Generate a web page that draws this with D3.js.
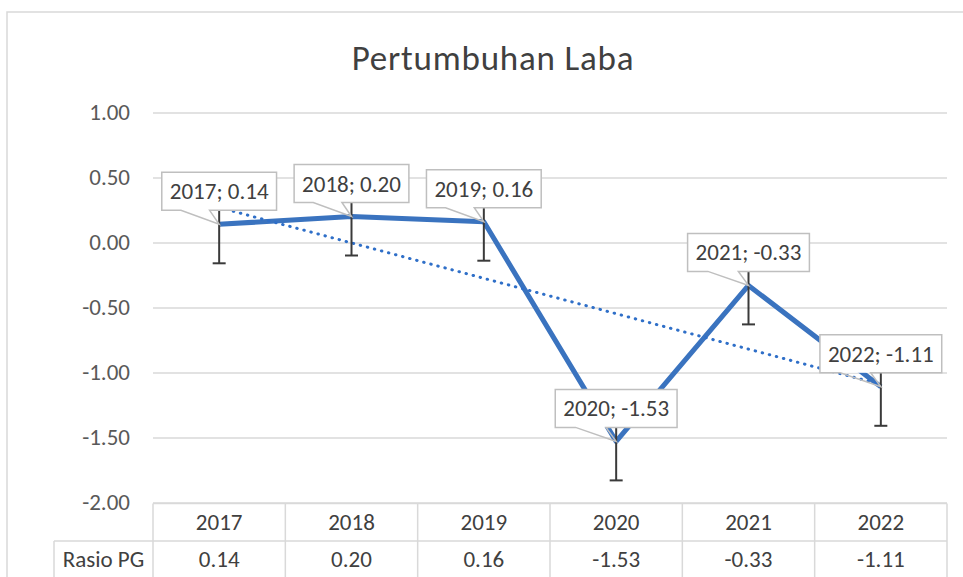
<!DOCTYPE html>
<html>
<head>
<meta charset="utf-8">
<script src="https://cdn.jsdelivr.net/npm/d3@7"></script>
<style>
  html, body { margin: 0; padding: 0; background: #fff; }
  svg { display: block; }
  text { font-family: Carlito, Calibri, Lato, sans-serif; }
</style>
</head>
<body>
<script>
const title = "Pertumbuhan Laba";
const years = ["2017", "2018", "2019", "2020", "2021", "2022"];
const values = [0.14, 0.20, 0.16, -1.53, -0.33, -1.11];
const errors = [0.30, 0.30, 0.30, 0.30, 0.30, 0.30];
const yTicks = [1.00, 0.50, 0.00, -0.50, -1.00, -1.50, -2.00];
const seriesName = "Rasio PG";

const W = 963, H = 577;
const FS = 23;
const fmt = d3.formatLocale({decimal: ".", thousands: ",", grouping: [3], currency: ["", ""], minus: "-"}).format(".2f");

const svg = d3.select("body").append("svg").attr("width", W).attr("height", H);

// frame
svg.append("path").attr("d", `M7,${H + 2} L7,12 L${W + 2},12`)
  .attr("fill", "none").attr("stroke", "#d9d9d9").attr("stroke-width", 1.5);

const plotL = 153, plotR = 947;
const x = d3.scaleBand().domain(years).range([plotL, plotR]);
const y = d3.scaleLinear().domain([-2, 1]).range([502.5, 112.5]);
const cx = d => x(d) + x.bandwidth() / 2;

// title
svg.append("text").attr("x", 493).attr("y", 70).attr("text-anchor", "middle")
  .attr("font-size", 35).attr("letter-spacing", 0.8).attr("fill", "#404040").text(title);

// gridlines
const grid = svg.append("g").attr("transform", `translate(${plotL},0)`)
  .call(d3.axisLeft(y).tickValues(yTicks).tickSize(-(plotR - plotL)).tickFormat(""));
grid.select(".domain").remove();
grid.selectAll("line").attr("stroke", "#d9d9d9").attr("stroke-width", 1.5);

// y axis labels
const yAxis = svg.append("g").attr("transform", `translate(${plotL},0)`)
  .call(d3.axisLeft(y).tickValues(yTicks).tickSize(0).tickPadding(23).tickFormat(fmt));
yAxis.select(".domain").remove();
yAxis.selectAll("text").attr("font-size", FS).attr("fill", "#595959")
  .style("font-family", "Carlito, Calibri, Lato, sans-serif");

// data table
const tTop = y(-2) + 1, tMid = 541, tBot = 579, tLeft = 54;
const tbl = svg.append("g").attr("stroke", "#d9d9d9").attr("stroke-width", 1.5);
tbl.append("line").attr("x1", plotL).attr("x2", plotR).attr("y1", tTop).attr("y2", tTop);
tbl.append("line").attr("x1", tLeft).attr("x2", plotR).attr("y1", tMid).attr("y2", tMid);
tbl.append("line").attr("x1", tLeft).attr("x2", plotR).attr("y1", tBot).attr("y2", tBot);
tbl.append("line").attr("x1", tLeft).attr("x2", tLeft).attr("y1", tMid).attr("y2", tBot);
const bounds = years.map(d => x(d)).concat([plotR]);
tbl.selectAll("line.v").data(bounds).join("line").attr("class", "v")
  .attr("x1", d => d).attr("x2", d => d).attr("y1", tTop).attr("y2", tBot);

svg.append("g").selectAll("text").data(years).join("text")
  .attr("x", d => cx(d)).attr("y", 530).attr("text-anchor", "middle")
  .attr("font-size", FS).attr("fill", "#404040").text(d => d);
svg.append("g").selectAll("text").data(values).join("text")
  .attr("x", (d, i) => cx(years[i])).attr("y", 567).attr("text-anchor", "middle")
  .attr("font-size", FS).attr("fill", "#404040").text(d => fmt(d));
svg.append("text").attr("x", (tLeft + plotL) / 2).attr("y", 567).attr("text-anchor", "middle")
  .attr("font-size", FS).attr("fill", "#404040").text(seriesName);

// linear trendline (least squares on the series)
const xs = values.map((d, i) => i + 1);
const mx = d3.mean(xs), my = d3.mean(values);
const slope = d3.sum(xs, (xi, i) => (xi - mx) * (values[i] - my)) / d3.sum(xs, xi => (xi - mx) ** 2);
const icpt = my - slope * mx;
const trendPts = [years[0], years[years.length - 1]].map(yr => {
  const xi = years.indexOf(yr) + 1;
  return [cx(yr), y(icpt + slope * xi)];
});

// main line
svg.append("path").datum(values)
  .attr("d", d3.line().x((d, i) => cx(years[i])).y(d => y(d)))
  .attr("fill", "none").attr("stroke", "#3a73bf").attr("stroke-width", 5)
  .attr("stroke-linejoin", "round");

// trend
svg.append("path").datum(trendPts).attr("d", d3.line())
  .attr("fill", "none").attr("stroke", "#2f6fc8").attr("stroke-width", 3)
  .attr("stroke-linecap", "round").attr("stroke-dasharray", "0.5 6.8");

// error bars
const eb = svg.append("g").attr("stroke", "#3a3a3a").attr("stroke-width", 2);
values.forEach((v, i) => {
  const px = cx(years[i]);
  eb.append("line").attr("x1", px).attr("x2", px).attr("y1", y(v + errors[i])).attr("y2", y(v - errors[i]));
  eb.append("line").attr("x1", px - 6.5).attr("x2", px + 6.5).attr("y1", y(v + errors[i])).attr("y2", y(v + errors[i]));
  eb.append("line").attr("x1", px - 6.5).attr("x2", px + 6.5).attr("y1", y(v - errors[i])).attr("y2", y(v - errors[i]));
});

// callouts
const cg = svg.append("g");
values.forEach((v, i) => {
  const px = cx(years[i]), py = y(v);
  const g = cg.append("g");
  const t = g.append("text").attr("text-anchor", "middle").attr("font-size", FS)
    .attr("fill", "#404040").text(years[i] + "; " + fmt(v));
  const tw = t.node().getComputedTextLength();
  const bw = tw + 16, bh = 38;
  const bl = px - bw / 2, bt = py - 52, bb = bt + bh, br = bl + bw;
  const b1 = bl + bw * 2 / 12, b2 = bl + bw * 5 / 12;
  g.insert("rect", "text").attr("x", bl).attr("y", bt).attr("width", bw).attr("height", bh).attr("fill", "#fff");
  g.insert("path", "text")
    .attr("d", `M${bl},${bt} L${br},${bt} L${br},${bb} L${b2},${bb} L${px},${py} L${b1},${bb} L${bl},${bb} Z`)
    .attr("fill", "none").attr("stroke", "#bfbfbf").attr("stroke-width", 1.5);
  t.attr("x", px).attr("y", bt + bh / 2 + 8);
});
</script>
</body>
</html>
